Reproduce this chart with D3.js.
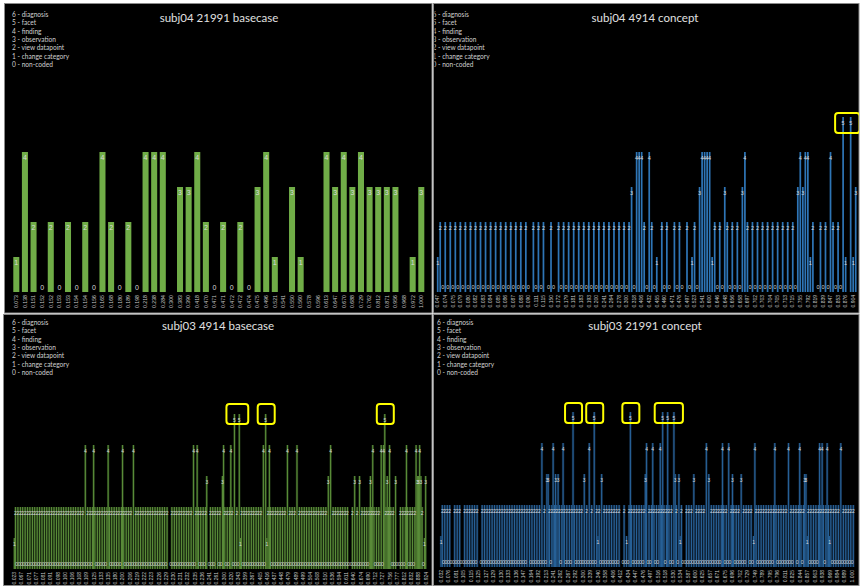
<!DOCTYPE html>
<html><head><meta charset="utf-8">
<script src="https://cdn.jsdelivr.net/npm/d3@7"></script>
<style>
html,body{margin:0;padding:0;background:#fff;}
svg{display:block;}
</style></head><body>
<svg id="c" width="860" height="588"></svg>
<script>
// ---------------- DATA ----------------
const legendItems = ["6 - diagnosis","5 - facet","4 - finding","3 - observation","2 - view datapoint","1 - change category","0 - non-coded"];
const titles = ["subj04 21991 basecase","subj04 4914 concept","subj03 4914 basecase","subj03 21991 concept"];

const tlLabels = ["0.073","0.138","0.151","0.152","0.152","0.153","0.153","0.154","0.154","0.156","0.165","0.168","0.180","0.189","0.198","0.218","0.238","0.284","0.300","0.383","0.390","0.418","0.470","0.471","0.471","0.472","0.472","0.474","0.475","0.496","0.521","0.541","0.550","0.560","0.578","0.596","0.613","0.647","0.670","0.688","0.729","0.762","0.812","0.871","0.956","0.968","0.972","1.000"];
const tlValues = [1,4,2,0,2,0,2,0,2,0, 4,2,0,2,0,4,4,4,null,3, 3,4,2,0,2,0,2,0,3,4, 1,null,3,1,null,null,4,3,4,3, 4,3,3,3,3,null,1,3];

const trLabels = ["0.047","0.074","0.075","0.079","0.080","0.082","0.083","0.084","0.085","0.086","0.087","0.088","0.090","0.111","0.115","0.150","0.172","0.179","0.181","0.183","0.193","0.200","0.241","0.264","0.278","0.300","0.318","0.406","0.432","0.455","0.460","0.471","0.476","0.497","0.523","0.541","0.600","0.646","0.648","0.656","0.658","0.697","0.702","0.703","0.704","0.705","0.713","0.715","0.755","0.792","0.819","0.839","0.847","0.853","0.876","0.904"];
const trValues = [
 1,2,0,2,0,2,0,2,0,2, 0,2,0,2,0,2,0,2,0,2, 0,2,0,2,0,2,0,2,0,2,
 0,2,0,2,0,2,0,null,2,0, 2,0,2,null,0,2,0,null,2,0, 2,0,2,0,2,0,2,0,2,0,
 2,0,2,0,2,0,2,0,2,0, 2,0,2,0,2,0,2,3,0,4, 4,4,2,0,4,2,0,1,null,2,
 0,2,0,null,2,0,2,0,null,2, 0,1,2,0,3,4,4,4,4,1, 2,0,2,0,3,2,0,2,0,2,
 0,3,4,2,0,2,0,2,0,2, 0,2,0,2,0,2,0,2,0,2, 0,2,0,3,4,3,4,4,1,2,
 null,0,2,0,2,0,4,2,0,2, 0,5,1,null,5,1,3];
const trHighlights = [[161,164]];

const blLabels = ["0.023","0.067","0.071","0.077","0.081","0.091","0.098","0.100","0.106","0.108","0.109","0.125","0.133","0.135","0.180","0.200","0.206","0.219","0.222","0.223","0.226","0.229","0.230","0.231","0.232","0.235","0.236","0.241","0.261","0.300","0.320","0.343","0.359","0.367","0.405","0.416","0.437","0.448","0.479","0.489","0.499","0.504","0.508","0.510","0.536","0.594","0.611","0.640","0.674","0.690","0.712","0.727","0.756","0.777","0.812","0.832","0.888","0.924"];
const blValues = [
 1,2,0,2,0,2,0,2,0,2, 0,2,0,2,0,2,0,2,0,2, 0,2,0,2,0,2,0,2,0,2, 0,2,0,2,0,2,0,2,0,2,
 0,2,0,2,0,2,0,2,0,2, 0,2,0,2,0,2,0,2,0,4, 0,2,0,2,0,2,4,2,0,2, 0,2,0,2,0,2,0,2,4,2,
 0,2,0,2,0,2,0,2,0,2, 4,2,0,2,0,2,0,2,0,4, 0,2,0,2,0,2,0,2,0,2, 0,2,0,2,0,2,0,2,0,2,
 0,2,0,2,0,2,0,2,null,null, 0,2,0,2,0,2,0,2,0,2, 0,2,0,2,0,2,0,2,0,4, 0,2,4,2,0,2,0,2,0,2,
 3,null,0,2,0,2,0,2,null,2, 0,2,0,3,4,2,0,2,0,2, 4,2,0,5,0,2,0,5,1,2, 0,2,0,2,0,2,0,2,0,2,
 0,2,0,2,0,2,0,4,0,5, 1,2,4,2,0,2,0,2,0,2, 0,2,0,2,0,2,0,4,0,2, 0,2,0,2,0,4,0,2,0,2,
 0,2,0,2,0,2,0,2,0,2, 0,2,0,2,0,2,0,2,0,2, 0,3,0,4,0,2,0,2,0,2, 0,2,0,2,0,2,0,2,0,null,
 0,2,0,3,0,2,0,3,0,2, 0,2,0,2,0,2,3,2,4,2, 0,2,0,2,0,4,0,4,5,2, 3,2,4,2,0,2,0,3,0,null,
 0,2,0,2,0,2,4,2,0,2, 0,2,0,2,4,3,3,4,3,2, 0,1,3];
const blHighlights = [[183,187],[209],[308]];

const brLabels = ["0.032","0.076","0.081","0.105","0.115","0.125","0.127","0.129","0.130","0.133","0.136","0.147","0.164","0.192","0.213","0.241","0.262","0.267","0.292","0.300","0.339","0.340","0.358","0.406","0.412","0.434","0.447","0.476","0.497","0.516","0.518","0.530","0.534","0.587","0.600","0.625","0.657","0.671","0.675","0.696","0.702","0.729","0.749","0.789","0.795","0.796","0.811","0.825","0.844","0.857","0.903","0.938","0.969","0.984","0.989","1.000"];
const brValues = [
 1,2,0,2,0,2,0,2,0,null, 0,2,0,2,0,2,0,null,0,2, 0,2,0,2,0,2,0,2,0,2, null,null,0,2,0,2,0,2,0,2,
 0,2,0,2,0,2,0,2,0,2, 0,2,0,2,0,2,0,2,0,2, 0,2,0,2,0,2,0,2,0,2, null,2,0,2,0,2,0,2,0,2,
 0,4,0,2,0,3,3,2,0,2, 4,2,3,2,3,2,0,2,4,2, 0,2,0,2,0,2,5,2,0,2, 0,2,0,2,0,3,0,2,0,4,
 0,2,0,5,0,2,1,2,0,3, 0,2,0,2,0,2,0,2,0,2, 0,2,0,2,null,null,0,2,0,1, 0,2,5,2,0,2,0,2,0,2,
 0,2,0,2,3,4,0,2,0,2, 4,2,0,2,0,2,4,2,5,2, 0,2,5,2,0,2,0,5,3,2, 0,3,1,2,0,null,0,2,0,2,
 0,2,0,3,0,2,0,2,0,2, 0,2,0,4,0,3,0,2,0,2, 0,2,0,2,0,2,4,2,0,2, 0,4,0,2,3,2,0,2,0,2,
 0,3,0,2,0,2,null,2,0,2, 0,1,4,2,0,2,0,2,0,2, 0,2,0,2,0,2,0,2,4,2, 0,2,0,2,0,2,0,2,0,4,
 0,2,0,2,null,2,0,2,4,2, 0,2,3,3,1,2,0,2,0,2, 0,2,0,2,4,2,4,2,0,2, 4,2,1,2,0,2,0,2,0,2,
 0,4,0,2,0,2,0,2,0,2, 0,2];
const brHighlights = [[106],[123],[152],[178,182,187]];

// ---------------- LAYOUT ----------------
const panels = [
 {title:titles[0], values:tlValues, labels:tlLabels, every:1, hl:[],
  frame:[4.5,3.5,427.5,309.5], clip:[5,4,426.5,308.5], xr:[12,425.6], pad:0.3, yr:[292,12],
  color:"#70AD47", under:null, legendX:12, legendY:14, titleX:219, titleY:17, valFont:7, tickFont:5.2, boxDy:-4},
 {title:titles[1], values:trValues, labels:trLabels, every:3, hl:trHighlights,
  frame:[433.5,3.5,425.5,309.5], clip:[434.5,4,424.5,308.5], xr:[436.44,856.96], pad:0.32, yr:[292,12],
  color:"#2E75B6", under:null, legendX:432.5, legendY:14, titleX:645, titleY:17, valFont:5.5, tickFont:5, boxDy:-4},
 {title:titles[2], values:blValues, labels:blLabels, every:6, hl:blHighlights,
  frame:[3.5,314.5,428.5,271], clip:[4,315,427.5,270], xr:[13.7,426.3], pad:0.42, yr:[569,321],
  color:"#70AD47", under:"#263f18", legendX:12, legendY:322, titleX:218, titleY:325, valFont:5, tickFont:5, boxDy:-10},
 {title:titles[3], values:brValues, labels:brLabels, every:6, hl:brHighlights,
  frame:[433.5,314.5,425.5,271], clip:[434.5,315,424.5,270], xr:[440.4,853.9], pad:0.42, yr:[567,319],
  color:"#2E75B6", under:"#142c46", legendX:437, legendY:322, titleX:645, titleY:325, valFont:5, tickFont:5, boxDy:-9}
];

const svg = d3.select("#c");
svg.append("rect").attr("width",860).attr("height",588).attr("fill","#ffffff");
const defs = svg.append("defs");

panels.forEach((p, pi) => {
  const cid = "clip" + pi;
  defs.append("clipPath").attr("id", cid).append("rect")
    .attr("x", p.clip[0]).attr("y", p.clip[1]).attr("width", p.clip[2]).attr("height", p.clip[3]);
  svg.append("rect").attr("x", p.frame[0]).attr("y", p.frame[1]).attr("width", p.frame[2]).attr("height", p.frame[3])
    .attr("fill", "#000").attr("stroke", "#8a8a8a").attr("stroke-width", 1);
  const g = svg.append("g").attr("clip-path", `url(#${cid})`);

  const n = p.values.length;
  const x = d3.scaleBand().domain(d3.range(n)).range(p.xr).paddingInner(p.pad).paddingOuter(p.pad / 2);
  const y = d3.scaleLinear().domain([0, 8]).range(p.yr);
  const bw = x.bandwidth();
  const cx = i => x(i) + bw / 2;
  const data = p.values.map((v, i) => ({i, v})).filter(d => d.v !== null);

  if (p.under) {
    g.append("g").selectAll("rect").data(data.filter(d => d.v > 0)).join("rect")
      .attr("x", d => cx(d.i) - x.step() * 0.95).attr("width", x.step() * 1.9)
      .attr("y", d => y(d.v)).attr("height", d => y(0) - y(d.v))
      .attr("fill", p.under);
  }
  g.append("g").selectAll("rect").data(data.filter(d => d.v > 0)).join("rect")
    .attr("x", d => x(d.i)).attr("width", bw)
    .attr("y", d => y(d.v)).attr("height", d => y(0) - y(d.v))
    .attr("fill", p.color);

  // value labels
  g.append("g").selectAll("text").data(data).join("text")
    .attr("x", d => cx(d.i))
    .attr("y", d => d.v > 0 ? y(d.v) + 5.5 : y(0) - 5)
    .attr("dominant-baseline", "central").attr("text-anchor", "middle")
    .attr("font-family", "'Liberation Sans', Arial, sans-serif").attr("font-size", p.valFont)
    .attr("fill", "#d9d9d9").text(d => d.v);

  // x axis labels
  const axis = d3.axisBottom(x)
    .tickValues(d3.range(0, n, p.every))
    .tickFormat(i => p.labels[i / p.every])
    .tickSize(0);
  const ag = g.append("g").attr("transform", `translate(0,${y(0)})`).call(axis);
  ag.select(".domain").remove();
  ag.selectAll("text")
    .attr("transform", "rotate(-90)").attr("x", -3).attr("y", 0).attr("dy", "0.35em")
    .style("text-anchor", "end")
    .attr("font-family", "'Liberation Sans', Arial, sans-serif").attr("font-size", p.tickFont)
    .attr("fill", "#c8c8c8");

  // legend
  g.append("g").selectAll("text").data(legendItems).join("text")
    .attr("x", p.legendX).attr("y", (d, k) => p.legendY + k * 8.33)
    .attr("dominant-baseline", "central")
    .attr("font-family", "Lato, 'Noto Sans', sans-serif").attr("font-size", 6.6)
    .attr("fill", "#d0d0d0").text(d => d);

  // title
  g.append("text").attr("x", p.titleX).attr("y", p.titleY)
    .attr("dominant-baseline", "central").attr("text-anchor", "middle")
    .attr("font-family", "Lato, 'Noto Sans', sans-serif").attr("font-size", 11.5)
    .attr("fill", "#e0e0e0").text(p.title);

  // highlight boxes around the value-5 bars
  g.append("g").selectAll("rect").data(p.hl).join("rect")
    .attr("x", d => cx(d[0]) - 8)
    .attr("width", d => cx(d[d.length - 1]) - cx(d[0]) + 17)
    .attr("y", d => y(d3.max(d, i => p.values[i])) + p.boxDy)
    .attr("height", 20).attr("rx", 3)
    .attr("fill", "none").attr("stroke", "#ffff00").attr("stroke-width", 2);
});
</script>
</body></html>
